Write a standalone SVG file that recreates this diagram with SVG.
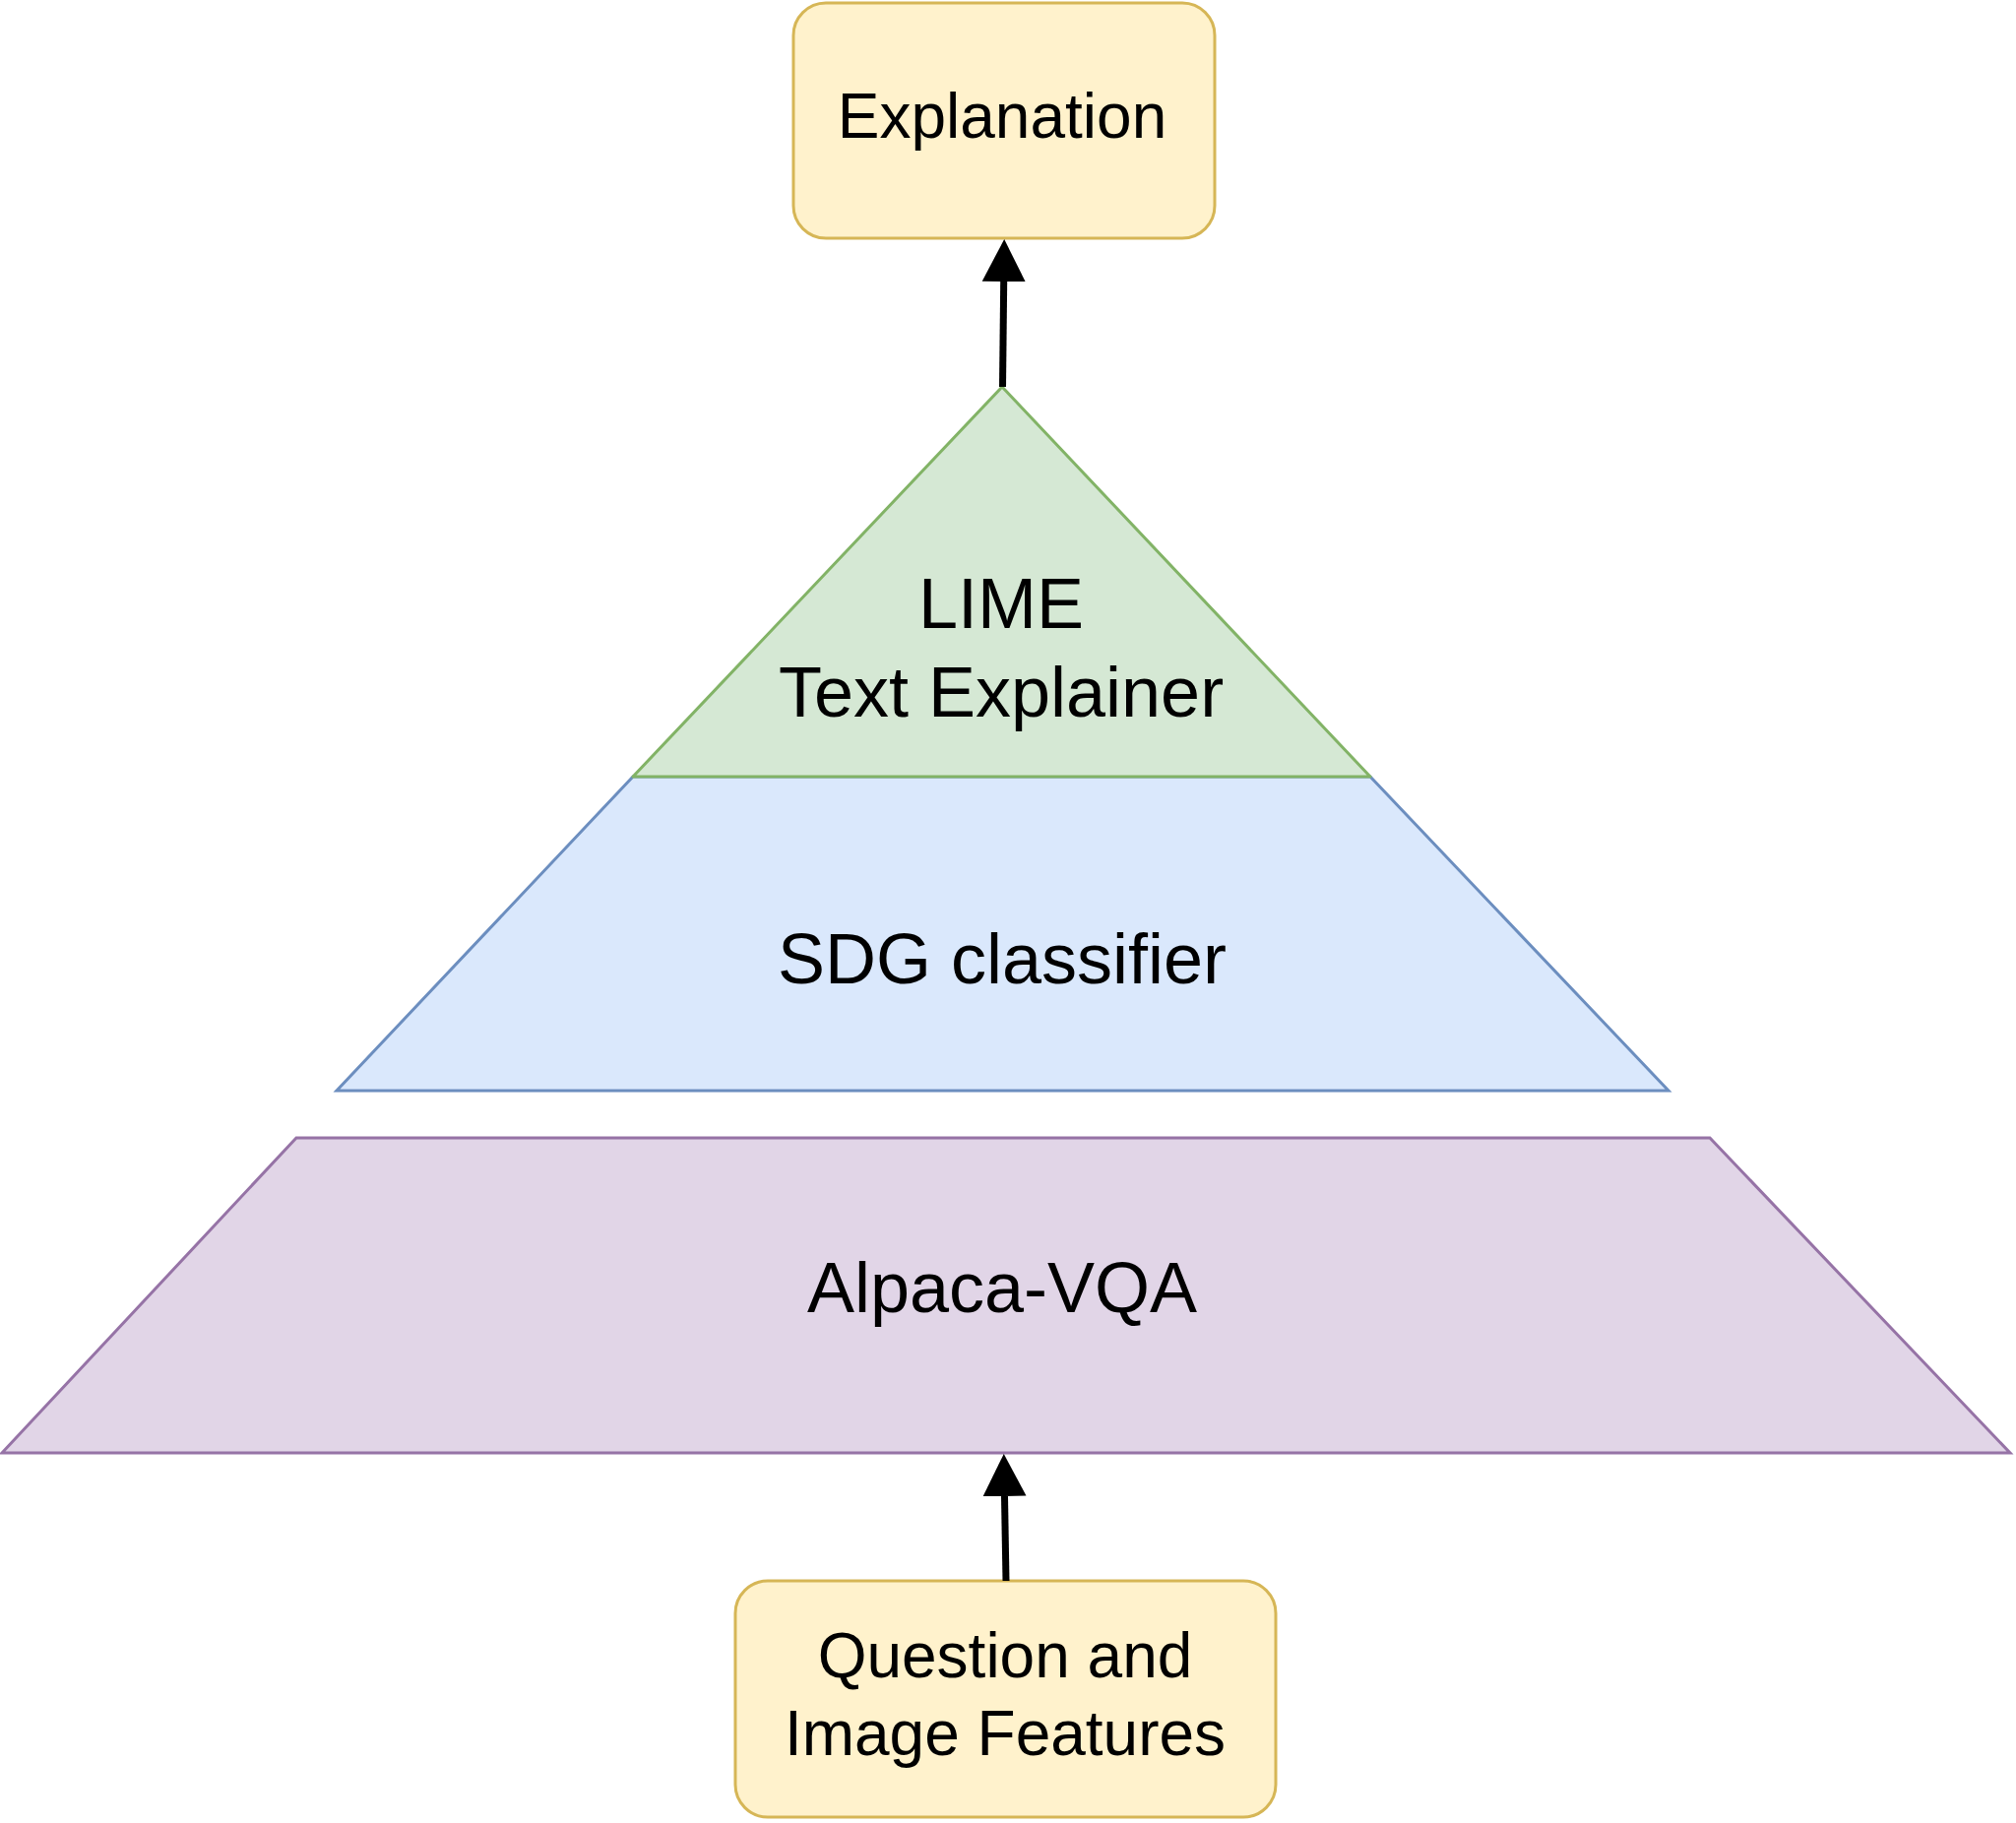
<svg xmlns="http://www.w3.org/2000/svg" width="2048" height="1852" viewBox="0 0 2048 1852">
  <style>
    .lbl { font-family: "Liberation Sans", Arial, Helvetica, sans-serif; font-size: 64px; fill: #000000; text-anchor: middle; }
    .big { font-size: 72px; }
    .box { fill: #fff2cc; stroke: #d6b656; stroke-width: 3; }
    .conn { stroke: #000000; stroke-width: 7; fill: none; }
  </style>
  <defs>
    <marker id="arrow" markerUnits="userSpaceOnUse" markerWidth="44" markerHeight="46" viewBox="0 0 44 46" refX="0" refY="23" orient="auto">
      <path d="M0,1 L43,23 L0,45 Z" fill="#000000"/>
    </marker>
  </defs>
  <rect width="2048" height="1852" fill="#ffffff"/>

  <g id="alpaca-vqa">
    <polygon points="301,1156 1737,1156 2042,1476 2,1476" fill="#e1d5e7" stroke="#9673a6" stroke-width="3"/>
    <text class="lbl big" x="1018" y="1333">Alpaca-VQA</text>
  </g>

  <g id="sdg-classifier">
    <polygon points="643,789 1392,789 1695,1108 342,1108" fill="#dae8fc" stroke="#6c8ebf" stroke-width="3"/>
    <text class="lbl big" x="1018" y="999">SDG classifier</text>
  </g>

  <g id="lime">
    <polygon points="1018,393 1392,789 643,789" fill="#d5e8d4" stroke="#82b366" stroke-width="3" stroke-linejoin="round"/>
    <text class="lbl big" x="1017" y="638">LIME</text>
    <text class="lbl big" x="1017" y="728">Text Explainer</text>
  </g>

  <g id="explanation">
    <rect class="box" x="806" y="3" width="428" height="239" rx="33" ry="33"/>
    <text class="lbl" x="1018" y="140">Explanation</text>
  </g>

  <g id="question-image">
    <rect class="box" x="747" y="1606" width="549" height="240" rx="33" ry="33"/>
    <text class="lbl" x="1021" y="1704">Question and</text>
    <text class="lbl" x="1021" y="1783">Image Features</text>
  </g>

  <g id="connectors">
    <line class="conn" x1="1018.5" y1="393" x2="1019.7" y2="286" marker-end="url(#arrow)"/>
    <line class="conn" x1="1022" y1="1606" x2="1020.5" y2="1520" marker-end="url(#arrow)"/>
  </g>
</svg>
